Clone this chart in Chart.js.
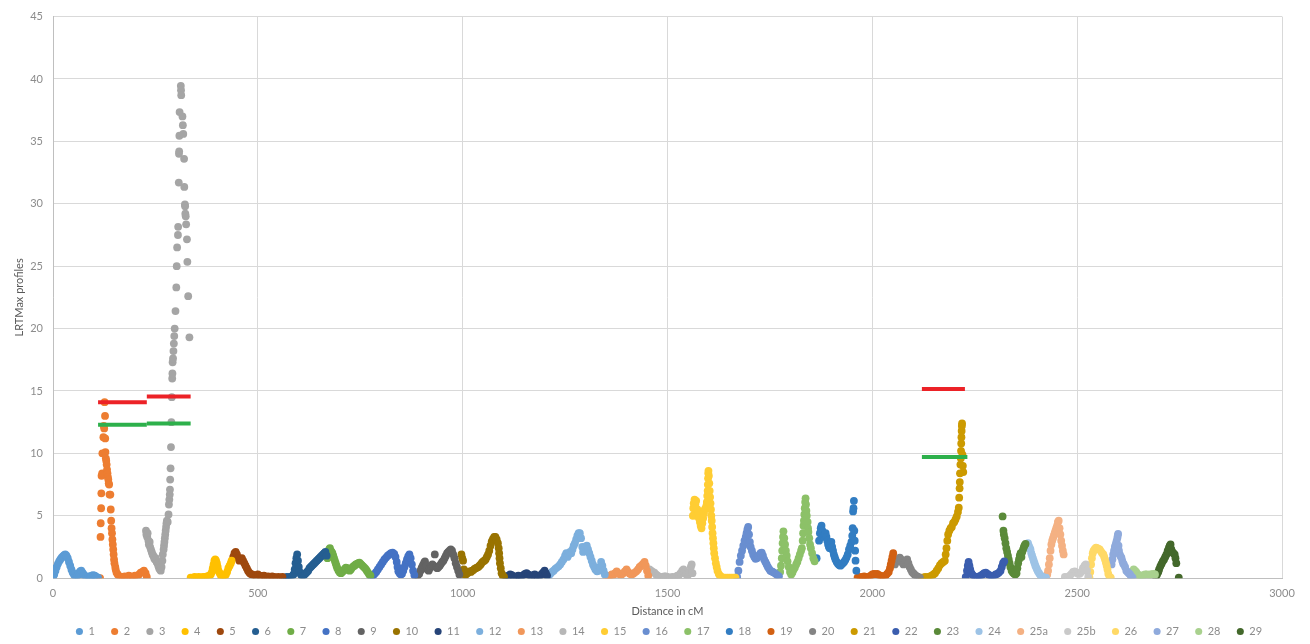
<!DOCTYPE html>
<html>
<head>
<meta charset="utf-8">
<title>LRTMax profiles</title>
<script src="https://cdn.jsdelivr.net/npm/chart.js@4.4.1/dist/chart.umd.min.js"></script>
<style>
  html, body { margin: 0; padding: 0; background: #fff; }
  #wrap { width: 1310px; height: 644px; }
</style>
</head>
<body>
<div id="wrap"><canvas id="chart" width="1310" height="644"></canvas></div>
<script>
// positions in cM, LRT max values per chromosome
const chr1 = [[0,0.05],[3,0.3],[6,0.6],[9,0.9],[12,1.15],[15,1.35],[18,1.5],[21,1.65],[24,1.75],[27,1.85],[30,1.9],[33,1.8],[36,1.6],[39,1.3],[42,1.0],[45,0.7],[48,0.45],[51,0.3],[54,0.15],[57,0.1],[60,0.2],[63,0.4],[66,0.55],[69,0.6],[72,0.45],[75,0.3],[78,0.15],[82,0.1],[86,0.15],[90,0.1],[94,0.2],[98,0.25],[102,0.2],[106,0.1],[110,0.05]];
const chr2 = [[115,0],[116,3.3],[116.5,4.4],[117.5,5.6],[118,6.8],[118.5,8.2],[120,8.4],[120.5,10.0],[123,11.3],[124,12.2],[125,12.0],[126,14.1],[127,13.0],[127.5,11.2],[128,10.1],[129,9.6],[130,9.4],[131,9.1],[132,8.7],[133,8.4],[134,8.1],[135,7.9],[136,7.6],[137,7.5],[138,6.7],[140,6.7],[141,5.5],[142,4.6],[143,4.0],[144,3.6],[145,3.1],[146,2.7],[147,2.3],[148,1.9],[149,1.5],[150,1.2],[152,0.9],[153,0.7],[155,0.45],[158,0.3],[162,0.15],[166,0.1],[170,0.1],[175,0.15],[180,0.1],[185,0.2],[190,0.15],[195,0.1],[200,0.2],[205,0.15],[210,0.3],[214,0.45],[218,0.5],[222,0.6],[226,0.4],[229,0.1]];
const chr3 = [[227,3.8],[228,3.5],[230,3.3],[231,3.6],[233,3.0],[234,2.7],[236,2.9],[237,2.5],[239,2.3],[241,2.1],[243,1.9],[245,1.8],[247,1.6],[249,1.5],[251,1.6],[253,1.3],[255,1.2],[257,1.0],[259,0.8],[261,0.7],[263,0.6],[265,0.9],[267,1.4],[268,1.9],[270,2.3],[271,2.6],[272,2.9],[273,3.2],[274,3.5],[275,3.8],[276,4.1],[277,4.4],[278,4.6],[280,4.5],[282,5.1],[283,5.9],[284,6.3],[285,6.7],[285.5,7.1],[286,7.9],[287,8.8],[288,10.5],[289,12.5],[290,14.5],[291,16.0],[291.5,16.4],[292,17.3],[293,17.6],[294,18.2],[295,18.8],[296,19.4],[297,20.0],[299,21.4],[301,23.3],[302,25.0],[303,26.5],[305,27.5],[305.5,28.15],[307,31.7],[307.5,34.0],[308,34.2],[308.5,35.45],[309,37.35],[312,39.45],[312.5,39.1],[313,38.7],[316,37.0],[317,36.3],[318,35.6],[320,33.6],[320.5,31.35],[322,29.95],[322.5,29.8],[323,29.2],[324,29.0],[325,28.35],[327,27.15],[328,25.35],[330,22.6],[333,19.3]];
const chr4 = [[336,0.05],[341,0.05],[346,0.1],[351,0.05],[356,0.1],[361,0.05],[366,0.1],[371,0.1],[376,0.15],[381,0.2],[385,0.3],[388,0.5],[390,0.8],[392,1.1],[394,1.4],[396,1.5],[398,1.4],[400,1.2],[402,0.9],[404,0.6],[407,0.4],[410,0.2],[413,0.1],[416,0.15],[419,0.2],[422,0.3],[425,0.5],[428,0.8],[431,1.0],[434,1.2],[436,1.4]];
const chr5 = [[440,1.7],[443,2.0],[446,2.1],[449,1.9],[452,1.6],[455,1.4],[458,1.5],[461,1.6],[464,1.4],[467,1.2],[470,1.0],[473,0.8],[476,0.6],[479,0.45],[482,0.35],[486,0.3],[490,0.25],[495,0.2],[500,0.3],[505,0.2],[510,0.15],[515,0.2],[520,0.1],[525,0.15],[530,0.1],[535,0.15],[540,0.1],[545,0.05],[550,0.1],[555,0.05],[560,0.1]];
const chr6 = [[563,0.05],[567,0.05],[571,0.1],[575,0.05],[579,0.1],[583,0.15],[587,0.3],[590,0.7],[592,1.2],[594,1.6],[596,1.9],[598,1.4],[600,0.9],[602,0.5],[605,0.3],[608,0.2],[611,0.2],[614,0.3],[617,0.4],[620,0.5],[623,0.6],[626,0.8],[629,0.9],[632,1.0],[635,1.1],[638,1.2],[641,1.3],[644,1.4],[647,1.5],[650,1.6],[653,1.7],[656,1.8],[659,1.9],[662,2.0],[665,2.1],[668,1.8]];
const chr7 = [[670,1.6],[672,2.0],[674,2.3],[676,2.4],[678,2.2],[680,2.1],[682,2.0],[684,1.8],[686,1.6],[688,1.4],[690,1.2],[692,1.0],[694,0.8],[697,0.6],[700,0.45],[703,0.4],[706,0.5],[709,0.6],[712,0.75],[715,0.85],[718,0.8],[721,0.65],[724,0.6],[727,0.7],[730,0.85],[733,0.95],[736,1.0],[739,1.1],[742,1.15],[745,1.2],[748,1.25],[751,1.15],[754,1.05],[757,0.95],[760,0.85],[763,0.75],[766,0.6],[769,0.45],[772,0.3],[775,0.2]];
const chr8 = [[777,0.1],[781,0.2],[785,0.35],[789,0.5],[793,0.7],[797,0.9],[801,1.1],[805,1.3],[809,1.5],[813,1.65],[817,1.8],[821,1.9],[825,2.0],[829,2.05],[833,1.95],[836,1.7],[839,1.3],[841,0.9],[843,0.55],[846,0.4],[849,0.3],[852,0.35],[855,0.6],[858,0.9],[861,1.2],[864,1.5],[867,1.75],[870,1.9],[873,1.6],[876,1.1],[879,0.6],[882,0.25]];
const chr9 = [[886,0.1],[890,0.2],[894,0.35],[897,0.6],[900,0.85],[903,1.05],[906,1.25],[908,1.35],[911,1.0],[914,0.7],[917,0.6],[920,0.8],[923,1.0],[926,1.1],[929,1.0],[932,1.9],[935,0.9],[938,0.8],[941,0.9],[944,1.0],[947,1.15],[950,1.3],[953,1.4],[956,1.6],[959,1.8],[962,2.0],[965,2.1],[968,2.2],[971,2.3],[974,2.2],[977,1.9],[980,1.6],[983,1.2],[986,0.9],[989,0.6],[992,0.3]];
const chr10 = [[997,1.9],[999,1.6],[1001,1.4],[1003,0.7],[1005,0.3],[1008,0.3],[1011,0.4],[1014,0.45],[1017,0.55],[1020,0.5],[1023,0.6],[1026,0.65],[1029,0.75],[1032,0.8],[1035,0.85],[1038,0.9],[1041,1.0],[1044,1.1],[1047,1.25],[1050,1.35],[1053,1.4],[1056,1.5],[1059,1.7],[1062,1.9],[1065,2.2],[1068,2.6],[1071,2.95],[1074,3.15],[1077,3.3],[1080,3.3],[1083,3.1],[1086,2.8],[1088,2.4],[1089,2.0],[1090,1.6],[1091,1.2],[1093,0.8],[1095,0.4],[1098,0.2],[1101,0.1]];
const chr11 = [[1104,0.15],[1108,0.1],[1112,0.2],[1116,0.3],[1120,0.25],[1124,0.15],[1128,0.1],[1132,0.15],[1136,0.2],[1140,0.1],[1144,0.15],[1148,0.25],[1152,0.35],[1156,0.4],[1160,0.3],[1164,0.2],[1168,0.15],[1172,0.25],[1176,0.3],[1180,0.2],[1184,0.1],[1188,0.15],[1192,0.3],[1196,0.45],[1200,0.6],[1203,0.4],[1206,0.2]];
const chr12 = [[1210,0.2],[1214,0.35],[1218,0.5],[1222,0.6],[1226,0.75],[1230,0.85],[1234,0.95],[1238,1.1],[1242,1.3],[1246,1.5],[1250,1.8],[1253,2.0],[1256,1.7],[1259,1.9],[1262,2.1],[1265,2.0],[1268,2.3],[1271,2.6],[1274,2.8],[1277,3.1],[1280,3.4],[1283,3.6],[1286,3.6],[1289,3.2],[1292,2.5],[1294,2.1],[1297,2.3],[1300,2.5],[1303,2.6],[1306,2.3],[1309,2.0],[1312,1.7],[1315,1.4],[1318,1.1],[1321,0.9],[1324,0.7],[1328,0.55],[1332,0.6],[1335,0.9],[1338,1.3],[1341,1.0],[1344,0.6],[1347,0.3]];
const chr13 = [[1352,0.05],[1356,0.1],[1360,0.2],[1364,0.3],[1368,0.25],[1372,0.4],[1376,0.55],[1380,0.4],[1384,0.3],[1388,0.3],[1392,0.4],[1396,0.55],[1400,0.7],[1404,0.5],[1408,0.35],[1412,0.3],[1416,0.35],[1420,0.45],[1424,0.55],[1428,0.7],[1432,0.9],[1436,1.0],[1440,1.15],[1444,1.3],[1447,1.0],[1450,0.6],[1453,0.2]];
const chr14 = [[1456,0.7],[1460,0.6],[1464,0.5],[1468,0.45],[1472,0.3],[1476,0.2],[1480,0.1],[1484,0.05],[1488,0.1],[1492,0.15],[1496,0.15],[1500,0.1],[1504,0.05],[1508,0.05],[1512,0.1],[1516,0.05],[1520,0.1],[1524,0.2],[1528,0.25],[1532,0.4],[1536,0.6],[1539,0.7],[1542,0.5],[1546,0.3],[1550,0.25],[1554,0.5],[1557,0.9],[1559,1.1],[1561,0.4]];
const chr15 = [[1562,5.0],[1563,5.6],[1564,6.0],[1566,6.3],[1568,5.9],[1570,6.2],[1571,5.0],[1573,5.5],[1575,5.2],[1577,4.8],[1579,4.5],[1581,4.2],[1583,4.0],[1585,4.4],[1587,4.8],[1589,5.2],[1591,5.5],[1593,5.6],[1595,5.8],[1596,6.1],[1597,6.6],[1598,7.0],[1598.5,7.5],[1599,8.0],[1599.5,8.4],[1600,8.6],[1601,8.2],[1602,7.6],[1603,7.0],[1604,6.5],[1605,6.0],[1606,5.5],[1607,5.0],[1608,4.6],[1609,4.1],[1610,3.6],[1611,3.2],[1612,2.8],[1613,2.4],[1614,2.0],[1616,1.6],[1618,1.2],[1620,0.9],[1622,0.6],[1625,0.35],[1628,0.2],[1632,0.1],[1636,0.05],[1641,0.05],[1646,0.05],[1651,0.05],[1656,0.05],[1661,0.05],[1666,0.05]];
const chr16 = [[1670,0.1],[1673,0.6],[1676,1.3],[1679,1.8],[1682,2.2],[1685,2.6],[1688,3.0],[1691,3.3],[1693,3.6],[1695,3.9],[1697,4.1],[1699,3.5],[1701,2.9],[1703,2.5],[1706,2.2],[1709,1.9],[1712,1.7],[1715,1.55],[1718,1.6],[1721,1.7],[1724,1.85],[1727,2.0],[1730,2.05],[1733,1.8],[1736,1.5],[1739,1.3],[1742,1.1],[1745,0.9],[1748,0.75],[1751,0.6],[1754,0.55],[1757,0.5],[1760,0.45],[1764,0.35],[1768,0.25],[1772,0.15]];
const chr17 = [[1775,0.5],[1777,1.0],[1779,1.6],[1780,2.2],[1781,2.8],[1782,3.3],[1783,3.75],[1785,3.2],[1787,2.7],[1789,2.2],[1791,1.8],[1793,1.35],[1796,0.9],[1799,0.5],[1802,0.3],[1805,0.45],[1808,0.7],[1811,0.85],[1814,1.1],[1817,1.3],[1820,1.6],[1823,1.9],[1826,2.2],[1828,2.4],[1830,3.0],[1831,3.6],[1832,4.2],[1833,4.6],[1834,5.1],[1835,5.6],[1836,6.1],[1837,6.4],[1838,5.9],[1839,5.4],[1840,5.0],[1842,4.5],[1843,4.0],[1844,3.7],[1846,3.2],[1848,2.7],[1850,2.4],[1853,2.0],[1856,1.6],[1859,1.35]];
const chr18 = [[1864,1.6],[1870,3.0],[1872,3.6],[1874,4.0],[1876,4.2],[1878,3.8],[1880,3.4],[1882,3.3],[1884,3.5],[1886,3.6],[1888,3.3],[1890,3.0],[1892,2.7],[1894,2.5],[1896,2.4],[1898,2.7],[1900,2.9],[1902,2.5],[1904,2.2],[1906,1.9],[1908,1.7],[1910,1.5],[1913,1.3],[1916,1.15],[1919,1.05],[1922,1.0],[1925,1.1],[1928,1.2],[1931,1.3],[1934,1.45],[1937,1.65],[1940,1.9],[1943,2.3],[1946,2.6],[1949,2.9],[1951,3.4],[1952,4.0],[1953,5.35],[1954,5.6],[1955,6.2],[1956,3.8],[1957,3.0],[1958,2.2],[1959,1.4],[1961,0.6]];
const chr19 = [[1964,0.05],[1968,0.1],[1972,0.05],[1976,0.1],[1980,0.15],[1984,0.1],[1988,0.05],[1992,0.1],[1996,0.2],[2000,0.3],[2004,0.35],[2008,0.3],[2012,0.35],[2016,0.25],[2020,0.2],[2024,0.15],[2028,0.1],[2032,0.2],[2036,0.35],[2040,0.5],[2043,0.8],[2045,1.1],[2047,1.4],[2049,1.7],[2051,2.0]];
const chr20 = [[2055,1.1],[2058,1.3],[2061,1.45],[2064,1.55],[2067,1.65],[2070,1.5],[2073,1.25],[2076,1.1],[2079,1.25],[2082,1.4],[2085,1.5],[2088,1.2],[2091,0.9],[2094,0.7],[2097,0.5],[2100,0.4],[2103,0.3],[2106,0.2],[2109,0.15],[2112,0.1],[2116,0.05]];
const chr21 = [[2121,0.05],[2125,0.05],[2129,0.1],[2133,0.05],[2137,0.1],[2141,0.15],[2145,0.2],[2149,0.3],[2153,0.4],[2157,0.6],[2161,0.8],[2165,1.05],[2169,1.2],[2173,1.3],[2177,1.4],[2179,1.9],[2181,2.4],[2183,3.0],[2185,3.5],[2188,3.8],[2191,4.0],[2194,4.1],[2197,4.4],[2200,4.5],[2203,4.7],[2206,4.95],[2209,5.3],[2211,5.65],[2212,6.45],[2213,7.2],[2213.5,7.7],[2214,8.4],[2215,9.1],[2216,9.6],[2216.5,10.2],[2217,10.8],[2217.5,11.3],[2218,11.8],[2218.5,12.2],[2219,12.4],[2220,9.9],[2221,9.0],[2222,8.5]];
const chr22 = [[2228,0.1],[2231,0.6],[2233,1.0],[2235,1.3],[2237,1.0],[2239,0.7],[2242,0.4],[2245,0.25],[2249,0.15],[2253,0.1],[2257,0.1],[2261,0.15],[2265,0.2],[2269,0.3],[2273,0.4],[2277,0.45],[2281,0.35],[2285,0.25],[2289,0.2],[2293,0.15],[2297,0.2],[2301,0.3],[2305,0.35],[2309,0.45],[2313,0.6],[2316,0.9],[2319,1.2],[2322,1.35]];
const chr23 = [[2318,4.95],[2320,3.8],[2321,3.5],[2323,3.2],[2325,2.8],[2327,2.4],[2329,2.1],[2331,1.8],[2333,1.5],[2335,1.2],[2337,0.9],[2340,0.6],[2343,0.45],[2346,0.35],[2349,0.3],[2352,0.4],[2354,0.8],[2356,1.2],[2358,1.5],[2360,1.8],[2362,2.0],[2364,1.7],[2366,2.1],[2368,2.3],[2370,2.5],[2372,2.65],[2374,2.75]];
const chr24 = [[2376,2.5],[2378,2.75],[2380,2.8],[2382,2.6],[2384,2.45],[2386,2.3],[2388,2.0],[2390,1.8],[2392,1.6],[2394,1.4],[2396,1.2],[2398,1.0],[2400,0.85],[2402,0.7],[2404,0.55],[2407,0.4],[2410,0.25],[2413,0.15],[2416,0.1],[2420,0.05],[2424,0.05]];
const chr25a = [[2424,0.1],[2427,0.3],[2429,0.6],[2431,1.1],[2433,1.6],[2435,2.2],[2437,2.7],[2439,3.0],[2441,3.2],[2443,3.4],[2445,3.6],[2447,3.8],[2449,4.0],[2451,4.2],[2453,4.5],[2455,4.6],[2457,4.0],[2459,3.5],[2461,3.0],[2463,2.6],[2465,2.2],[2467,1.9]];
const chr25b = [[2470,0.1],[2474,0.05],[2478,0.1],[2482,0.2],[2486,0.35],[2490,0.5],[2494,0.55],[2498,0.45],[2502,0.35],[2506,0.35],[2510,0.5],[2514,0.8],[2518,1.0],[2521,1.1],[2524,0.6],[2527,0.1]];
const chr26 = [[2530,0.05],[2532,0.5],[2534,1.1],[2536,1.6],[2538,2.0],[2540,2.2],[2543,2.35],[2546,2.45],[2549,2.4],[2552,2.35],[2555,2.3],[2558,2.15],[2561,2.0],[2564,1.9],[2566,1.7],[2568,1.5],[2570,1.25],[2572,1.0],[2574,0.7],[2576,0.35],[2579,0.1],[2582,0.05]];
const chr27 = [[2584,1.1],[2586,1.5],[2588,1.9],[2590,2.2],[2592,2.5],[2594,2.7],[2596,2.95],[2598,3.2],[2599,3.4],[2600,3.55],[2601,2.6],[2602,2.2],[2604,1.9],[2606,1.75],[2608,1.65],[2610,1.4],[2612,1.2],[2614,1.1],[2617,0.9],[2620,0.6],[2623,0.5],[2626,0.4],[2629,0.3],[2632,0.15],[2635,0.05]];
const chr28 = [[2638,0.7],[2641,0.6],[2644,0.5],[2647,0.35],[2650,0.25],[2654,0.2],[2658,0.2],[2662,0.25],[2666,0.3],[2670,0.3],[2674,0.25],[2678,0.3],[2682,0.3],[2686,0.35],[2690,0.3]];
const chr29 = [[2692,0.15],[2695,0.3],[2698,0.5],[2700,0.7],[2703,0.95],[2706,1.15],[2709,1.35],[2712,1.5],[2715,1.7],[2718,1.9],[2721,2.2],[2724,2.45],[2726,2.6],[2728,2.7],[2730,2.3],[2732,2.1],[2735,2.0],[2738,1.9],[2740,1.6],[2742,1.2],[2748,0.05]];

const chromNames = ["1","2","3","4","5","6","7","8","9","10","11","12","13","14","15","16","17","18","19","20","21","22","23","24","25a","25b","26","27","28","29"];
const chromData = [chr1,chr2,chr3,chr4,chr5,chr6,chr7,chr8,chr9,chr10,chr11,chr12,chr13,chr14,chr15,chr16,chr17,chr18,chr19,chr20,chr21,chr22,chr23,chr24,chr25a,chr25b,chr26,chr27,chr28,chr29];
const chromColors = [
  "#5B9BD5","#ED7D31","#A5A5A5","#FFC000","#9E480E","#255E91","#70AD47","#4472C4","#636363","#997300",
  "#264478","#7CAFDD","#F1975A","#B7B7B7","#FFCD33","#698ED0","#8CC168","#327DC2","#D26012","#848484",
  "#CC9A00","#3A5DAE","#5A8A39","#9DC3E6","#F4B183","#C9C9C9","#FFD966","#8FAADC","#A9D18E","#43682B"
];

// threshold segments: [start cM, end cM, LRT]
const redThresholds = [[110,229,14.1],[229,336,14.55],[2121,2226,15.15]];
const greenThresholds = [[110,229,12.3],[229,336,12.4],[2121,2232,9.7]];

const xTicks = [0,500,1000,1500,2000,2500,3000];
const yTicks = [0,5,10,15,20,25,30,35,40,45];

const GRID = "#D9D9D9";
const TEXT = "#8C8C8C";
const FONT = "Lato, 'Open Sans', sans-serif";

const datasets = [];

function addThreshold(seg, color){
  datasets.push({
    type: "line",
    label: "",
    data: [{x: seg[0], y: seg[2]}, {x: seg[1], y: seg[2]}],
    borderColor: color,
    borderWidth: 4,
    pointRadius: 0,
    fill: false,
    order: 0
  });
}

chromData.forEach((pts, i) => {
  datasets.push({
    type: "scatter",
    label: chromNames[i],
    data: pts.map(p => ({x: p[0], y: p[1]})),
    backgroundColor: chromColors[i],
    borderColor: chromColors[i],
    borderWidth: 0,
    pointRadius: 3.9,
    pointHoverRadius: 3.9,
    order: 1
  });
});
redThresholds.forEach(s => addThreshold(s, "#EC2227"));
greenThresholds.forEach(s => addThreshold(s, "#2DB04B"));

// nudge the legend row under the plot
const legendShift = {
  id: "legendShift",
  afterLayout(chart){
    const lg = chart.legend;
    if (!lg) return;
    lg.left += 28; lg.right += 28;
    lg.top += 3; lg.bottom += 3;
  }
};

new Chart(document.getElementById("chart"), {
  type: "scatter",
  data: { datasets },
  plugins: [legendShift],
  options: {
    responsive: false,
    animation: false,
    devicePixelRatio: 1,
    layout: { padding: { left: 0, right: 28, top: 13, bottom: 0 } },
    plugins: {
      tooltip: { enabled: false },
      legend: {
        position: "bottom",
        labels: {
          usePointStyle: true,
          pointStyle: "circle",
          boxWidth: 7,
          boxHeight: 5,
          padding: 16.35,
          color: TEXT,
          font: { family: FONT, size: 11 },
          filter: item => item.text !== ""
        }
      }
    },
    scales: {
      x: {
        type: "linear",
        min: 0, max: 3000,
        afterBuildTicks: s => { s.ticks = xTicks.map(v => ({value: v})); },
        afterFit: s => { s.height = 28.5; },
        grid: { color: GRID, drawTicks: false },
        border: { color: "#BFBFBF" },
        ticks: { color: TEXT, font: { family: FONT, size: 11 }, padding: 9, maxRotation: 0, callback: v => String(v) },
        title: { display: true, text: "Distance in cM", color: "#595959", font: { family: FONT, size: 11 }, padding: { top: 0, bottom: -11 } }
      },
      y: {
        type: "linear",
        min: 0, max: 45,
        afterBuildTicks: s => { s.ticks = yTicks.map(v => ({value: v})); },
        afterFit: s => { s.width = 53; },
        grid: { color: GRID, drawTicks: false },
        border: { color: "#BFBFBF" },
        ticks: { color: TEXT, font: { family: FONT, size: 11 }, padding: 10, callback: v => String(v) },
        title: { display: true, text: "LRTMax profiles", color: "#595959", font: { family: FONT, size: 11 }, padding: { top: 13, bottom: 0 } }
      }
    }
  }
});
</script>
</body>
</html>
